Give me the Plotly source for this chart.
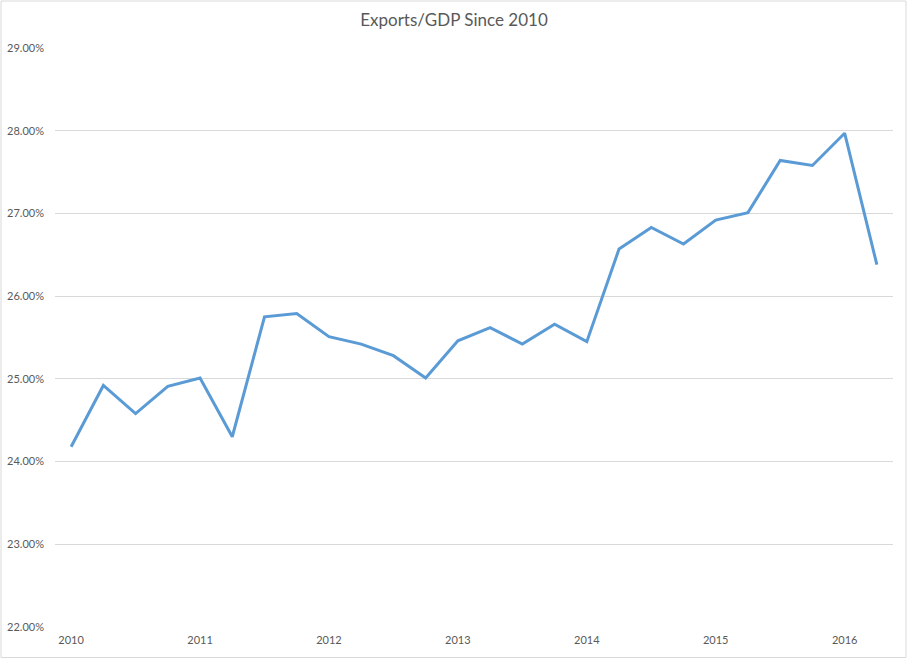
import plotly.graph_objects as go

# quarterly exports/GDP ratio, 2010 Q1 .. 2016 Q2
quarters = ["2010 Q1", "2010 Q2", "2010 Q3", "2010 Q4",
            "2011 Q1", "2011 Q2", "2011 Q3", "2011 Q4",
            "2012 Q1", "2012 Q2", "2012 Q3", "2012 Q4",
            "2013 Q1", "2013 Q2", "2013 Q3", "2013 Q4",
            "2014 Q1", "2014 Q2", "2014 Q3", "2014 Q4",
            "2015 Q1", "2015 Q2", "2015 Q3", "2015 Q4",
            "2016 Q1", "2016 Q2"]
exports_gdp = [0.2418, 0.2492, 0.2458, 0.2491,
               0.2501, 0.2430, 0.2575, 0.2579,
               0.2551, 0.2542, 0.2528, 0.2501,
               0.2546, 0.2562, 0.2542, 0.2566,
               0.2545, 0.2657, 0.2683, 0.2663,
               0.2692, 0.2701, 0.2764, 0.2758,
               0.2797, 0.2638]
year_labels = ["2010", "2011", "2012", "2013", "2014", "2015", "2016"]

idx = list(range(len(quarters)))
tick_pos = idx[::4]

W, H = 908, 659
ML, MR, MT, MB = 55, 15, 48, 32
pw, ph = W - ML - MR, H - MT - MB

fig = go.Figure()
fig.add_trace(go.Scatter(
    x=idx, y=exports_gdp, mode="lines",
    line=dict(color="#5B9BD5", width=3),
    text=quarters, hovertemplate="%{text}: %{y:.2%}<extra></extra>",
))

fig.update_layout(
    width=W, height=H,
    margin=dict(l=ML, r=MR, t=MT, b=MB),
    paper_bgcolor="white", plot_bgcolor="white",
    font=dict(family="Lato, sans-serif", color="#595959", size=11),
    title=dict(text="Exports/GDP Since 2010", x=0.5, xanchor="center",
               y=1 - 20 / H, yanchor="middle",
               font=dict(size=17, color="#595959")),
    showlegend=False,
    xaxis=dict(range=[-0.5, len(idx) - 0.5], tickvals=tick_pos,
               ticktext=year_labels, showgrid=False, zeroline=False,
               showline=False, ticks="", ticklabelstandoff=5,
               automargin=False),
    yaxis=dict(range=[0.22, 0.29], dtick=0.01, tickformat=".2%",
               gridcolor="#D9D9D9", gridwidth=1, zeroline=False,
               showline=False, ticks="", ticklabelstandoff=10,
               automargin=False),
    shapes=[dict(type="rect", xref="paper", yref="paper",
                 x0=(-ML + 1) / pw, x1=(pw + MR - 2) / pw,
                 y0=(-MB + 1.5) / ph, y1=(ph + MT - 1) / ph,
                 line=dict(color="#D9D9D9", width=1), layer="below")],
)

# drop the browser's default page margin so the chart sits at 0,0
fig.write_html("out.html", config={"displayModeBar": False},
               post_script="document.body.style.margin='0';")
